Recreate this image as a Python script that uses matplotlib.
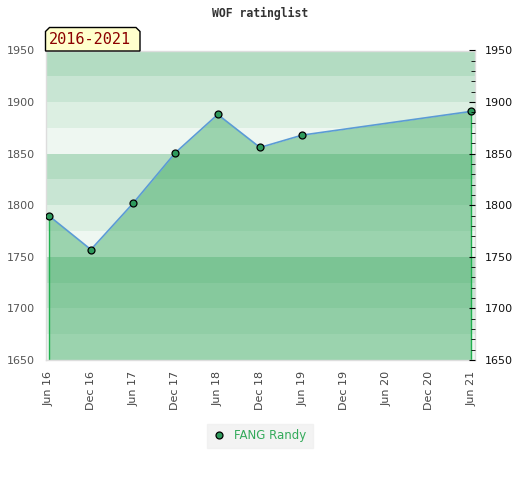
import matplotlib
matplotlib.use("Agg")
import matplotlib.pyplot as plt
from matplotlib.patches import Polygon
from matplotlib.lines import Line2D

# ---- data ----
x_labels = ['Jun 16', 'Dec 16', 'Jun 17', 'Dec 17', 'Jun 18', 'Dec 18',
            'Jun 19', 'Dec 19', 'Jun 20', 'Dec 20', 'Jun 21']
point_dates = ['Jun 16', 'Dec 16', 'Jun 17', 'Dec 17', 'Jun 18', 'Dec 18',
               'Jun 19', 'Jun 21']
ratings = [1790, 1757, 1802, 1851, 1888, 1856, 1868, 1891]
y_ticks = [1650, 1700, 1750, 1800, 1850, 1900, 1950]
series_name = 'FANG Randy'
title = 'WOF ratinglist'
period = '2016-2021'

W, H = 520, 480
fig = plt.figure(figsize=(W / 100, H / 100), dpi=100)
left, right, top, bottom = 45.7, 475, 50.5, 360
ax = fig.add_axes([left / W, 1 - bottom / H, (right - left) / W, (bottom - top) / H])

ymin, ymax = 1650, 1950
ax.set_ylim(ymin, ymax)
ax.set_xlim(-0.07, len(x_labels) - 1 + 0.088)

# background bands
band_cols = ['#eef7f1', '#dcefe2', '#c8e5d3', '#b3dcc2']
for lo in range(ymin, ymax, 25):
    k = ((lo - ymin) // 25) % 4
    ax.axhspan(lo, lo + 25, color=band_cols[k], lw=0, zorder=0)

xs = [x_labels.index(d) for d in point_dates]
fill_col = (58 / 255, 169 / 255, 95 / 255)
ax.fill_between(xs, ratings, ymin, color=fill_col, alpha=0.46, lw=0, zorder=1)
ax.vlines([xs[0], xs[-1]], ymin, [ratings[0], ratings[-1]], color='#22b050', lw=1.0, zorder=2)
ax.plot(xs, ratings, color='#5b9bd5', lw=1.2, zorder=3)
ax.plot(xs, ratings, ls='none', marker='o', ms=5, mfc='#2e9a5c', mec='black', mew=0.9, zorder=4)

# axes styling
for s in ax.spines.values():
    s.set_color('#dddddd')
    s.set_linewidth(1)
ax.set_xticks(range(len(x_labels)))
ax.set_xticklabels(x_labels, rotation=90, fontsize=8, color='#444444')
ax.tick_params(axis='x', length=0, pad=8)
ax.set_yticks(y_ticks)
ax.set_yticklabels([str(v) for v in y_ticks], fontsize=8, color='#555555')
ax.tick_params(axis='y', length=0, pad=8)

ax2 = ax.twinx()
ax2.set_ylim(ymin, ymax)
ax2.set_yticks(y_ticks)
ax2.set_yticklabels([str(v) for v in y_ticks], fontsize=8, color='#111111')
ax2.set_yticks(range(ymin, ymax + 1, 10), minor=True)
ax2.tick_params(axis='y', which='major', direction='in', length=4, color='black', pad=7)
ax2.tick_params(axis='y', which='minor', direction='in', length=3, color='black')
for s in ax2.spines.values():
    s.set_visible(False)

# title
fig.text(0.5, 1 - 13 / H, title, ha='center', va='center', fontsize=8.3,
         fontweight='bold', family='DejaVu Sans Mono', color='#333333')

# period label box
bx0, bx1, by0, by1, c = 45.5, 140, 27.5, 51, 4
pts = [(bx0, by1), (bx0, by0 + c), (bx0 + c, by0), (bx1 - c, by0), (bx1, by0 + c), (bx1, by1)]
pts = [(x / W, 1 - y / H) for x, y in pts]
fig.patches.append(Polygon(pts, closed=True, transform=fig.transFigure,
                           facecolor='#ffffcc', edgecolor='black', lw=1, zorder=5))
fig.text((bx0 + bx1) / 2 / W - 3 / W, 1 - 40 / H, period, ha='center', va='center',
         fontsize=11, family='DejaVu Sans Mono', color='#8b0000', zorder=6)

# legend
handle = Line2D([], [], ls='none', marker='o', ms=5, mfc='#2e9a5c', mec='black', mew=0.9)
leg = fig.legend([handle], [series_name], loc='center', bbox_to_anchor=(0.5, 1 - 436 / H),
                 fontsize=8.5, frameon=True, fancybox=False, handlelength=1.0,
                 handletextpad=0.8, borderpad=0.5)
leg.get_frame().set_facecolor('#f0f0f0')
leg.get_frame().set_edgecolor('#f0f0f0')
for t in leg.get_texts():
    t.set_color('#33aa5a')

fig.savefig('out.png', dpi=100)
